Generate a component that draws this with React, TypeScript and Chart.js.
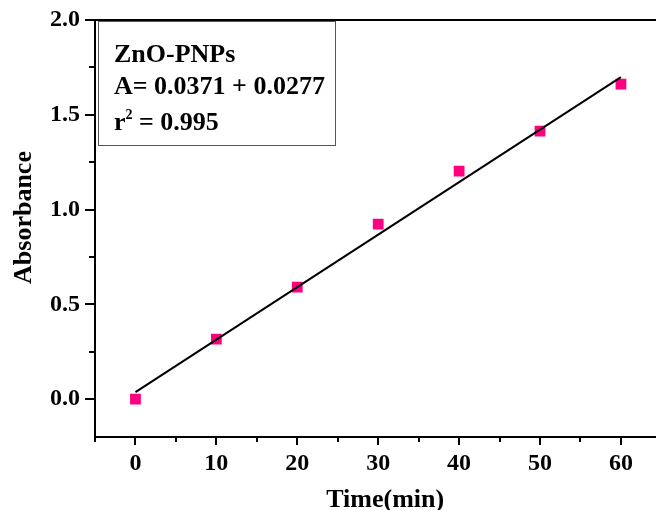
import React, { useEffect, useRef } from 'react';
import { Chart, registerables } from 'chart.js';

Chart.register(...registerables);

const times = [0, 10, 20, 30, 40, 50, 60];
const absorbance = [0.0, 0.317, 0.591, 0.923, 1.203, 1.414, 1.662];
const fitTimes = [0, 60];
const fitAbsorbance = [0.0371, 1.699];
const xMajorTicks = [0, 10, 20, 30, 40, 50, 60];
const xMinorTicks = [-5, 5, 15, 25, 35, 45, 55, 65];
const yMajorTicks = [0, 0.5, 1.0, 1.5, 2.0];
const yMinorTicks = [0.25, 0.75, 1.25, 1.75];
const legendTitle = 'ZnO-PNPs';
const legendEquation = 'A= 0.0371 + 0.0277';
const legendR2 = ' = 0.995';
const xTitle = 'Time(min)';
const yTitle = 'Absorbance';

const FONT = '"Liberation Serif", "Times New Roman", serif';

const decorPlugin = {
  id: 'decor',
  afterDraw(chart: any) {
    const ctx = chart.ctx as CanvasRenderingContext2D;
    const { left, right, top, bottom } = chart.chartArea;
    const xs = chart.scales.x;
    const ys = chart.scales.y;
    ctx.save();
    ctx.strokeStyle = '#000';
    ctx.lineWidth = 2;
    // top frame
    ctx.beginPath();
    ctx.moveTo(left - 1, top);
    ctx.lineTo(chart.width, top);
    ctx.stroke();
    // bottom axis extension
    ctx.beginPath();
    ctx.moveTo(left, bottom);
    ctx.lineTo(chart.width, bottom);
    ctx.stroke();
    // x ticks
    xMajorTicks.forEach((v) => {
      const px = Math.round(xs.getPixelForValue(v));
      ctx.beginPath();
      ctx.moveTo(px, bottom);
      ctx.lineTo(px, bottom + 8);
      ctx.stroke();
    });
    xMinorTicks.forEach((v) => {
      const px = Math.round(xs.getPixelForValue(v));
      ctx.beginPath();
      ctx.moveTo(px, bottom);
      ctx.lineTo(px, bottom + 5);
      ctx.stroke();
    });
    yMajorTicks.forEach((v) => {
      const py = Math.round(ys.getPixelForValue(v));
      ctx.beginPath();
      ctx.moveTo(left, py);
      ctx.lineTo(left - 10, py);
      ctx.stroke();
    });
    yMinorTicks.forEach((v) => {
      const py = Math.round(ys.getPixelForValue(v));
      ctx.beginPath();
      ctx.moveTo(left, py);
      ctx.lineTo(left - 6, py);
      ctx.stroke();
    });

    // axis titles
    ctx.fillStyle = '#000';
    ctx.font = `bold 26px ${FONT}`;
    ctx.textAlign = 'center';
    ctx.textBaseline = 'alphabetic';
    ctx.fillText(xTitle, (left + right) / 2 + 7, 507);
    ctx.save();
    ctx.translate(31, (top + bottom) / 2 - 11);
    ctx.rotate(-Math.PI / 2);
    ctx.fillText(yTitle, 0, 0);
    ctx.restore();

    // legend box
    ctx.lineWidth = 1;
    ctx.strokeStyle = '#555';
    ctx.strokeRect(left + 3.5, top + 1.5, 237, 124);
    ctx.textAlign = 'left';
    ctx.fillStyle = '#000';
    ctx.font = `bold 26px ${FONT}`;
    const tx = left + 19;
    ctx.fillText(legendTitle, tx, top + 42);
    ctx.fillText(legendEquation, tx, top + 74);
    ctx.fillText('r', tx, top + 110);
    const rW = ctx.measureText('r').width;
    ctx.font = `bold 14px ${FONT}`;
    ctx.fillText('2', tx + rW, top + 99);
    const twoW = ctx.measureText('2').width;
    ctx.font = `bold 26px ${FONT}`;
    ctx.fillText(legendR2, tx + rW + twoW, top + 110);
    ctx.restore();
  },
};

const zeroPad = (scale: any) => {
  scale.paddingLeft = 0;
  scale.paddingRight = 0;
  scale.paddingTop = 0;
  scale.paddingBottom = 0;
};

export default function App() {
  const ref = useRef<HTMLCanvasElement | null>(null);
  useEffect(() => {
    document.body.style.margin = '0';
    const canvas = ref.current;
    if (!canvas) return;
    const chart = new Chart(canvas, {
      type: 'scatter',
      data: {
        datasets: [
          {
            type: 'line',
            label: 'fit',
            data: fitTimes.map((t, i) => ({ x: t, y: fitAbsorbance[i] })),
            borderColor: '#000',
            borderWidth: 2,
            pointRadius: 0,
            showLine: true,
            fill: false,
          } as any,
          {
            label: 'ZnO-PNPs',
            data: times.map((t, i) => ({ x: t, y: absorbance[i] })),
            backgroundColor: 'rgb(255,0,128)',
            borderColor: 'rgb(255,0,128)',
            borderWidth: 0,
            pointStyle: 'rect',
            pointRadius: 7.6,
          },
        ],
      },
      options: {
        responsive: false,
        animation: false,
        layout: { padding: { top: 20, right: 0, left: 0, bottom: 0 } },
        plugins: {
          legend: { display: false },
          tooltip: { enabled: false },
        },
        scales: {
          x: {
            type: 'linear',
            min: -5,
            max: 65,
            afterBuildTicks: (scale: any) => {
              scale.ticks = xMajorTicks.map((v) => ({ value: v }));
            },
            afterFit: (scale: any) => {
              scale.height = 73;
              zeroPad(scale);
            },
            ticks: {
              color: '#000',
              font: { family: FONT, size: 24, weight: 'bold' },
              padding: 12,
              maxRotation: 0,
              callback: (v: any) => String(v),
            },
            grid: { display: true, drawOnChartArea: false, drawTicks: false },
            border: { display: true, color: '#000', width: 2 },
          },
          y: {
            type: 'linear',
            min: -0.2,
            max: 2.0,
            afterBuildTicks: (scale: any) => {
              scale.ticks = yMajorTicks.map((v) => ({ value: v }));
            },
            afterFit: (scale: any) => {
              scale.width = 95;
              zeroPad(scale);
            },
            ticks: {
              color: '#000',
              font: { family: FONT, size: 24, weight: 'bold' },
              padding: 15,
              callback: (v: any) => Number(v).toFixed(1),
            },
            grid: { display: true, drawOnChartArea: false, drawTicks: false },
            border: { display: true, color: '#000', width: 2 },
          },
        },
      } as any,
      plugins: [decorPlugin],
    });
    return () => chart.destroy();
  }, []);
  return (
    <div style={{ width: 656, height: 510, overflow: 'hidden', position: 'relative' }}>
      <canvas
        ref={ref}
        width={669}
        height={510}
        style={{ display: 'block', width: 669, height: 510 }}
      />
    </div>
  );
}
